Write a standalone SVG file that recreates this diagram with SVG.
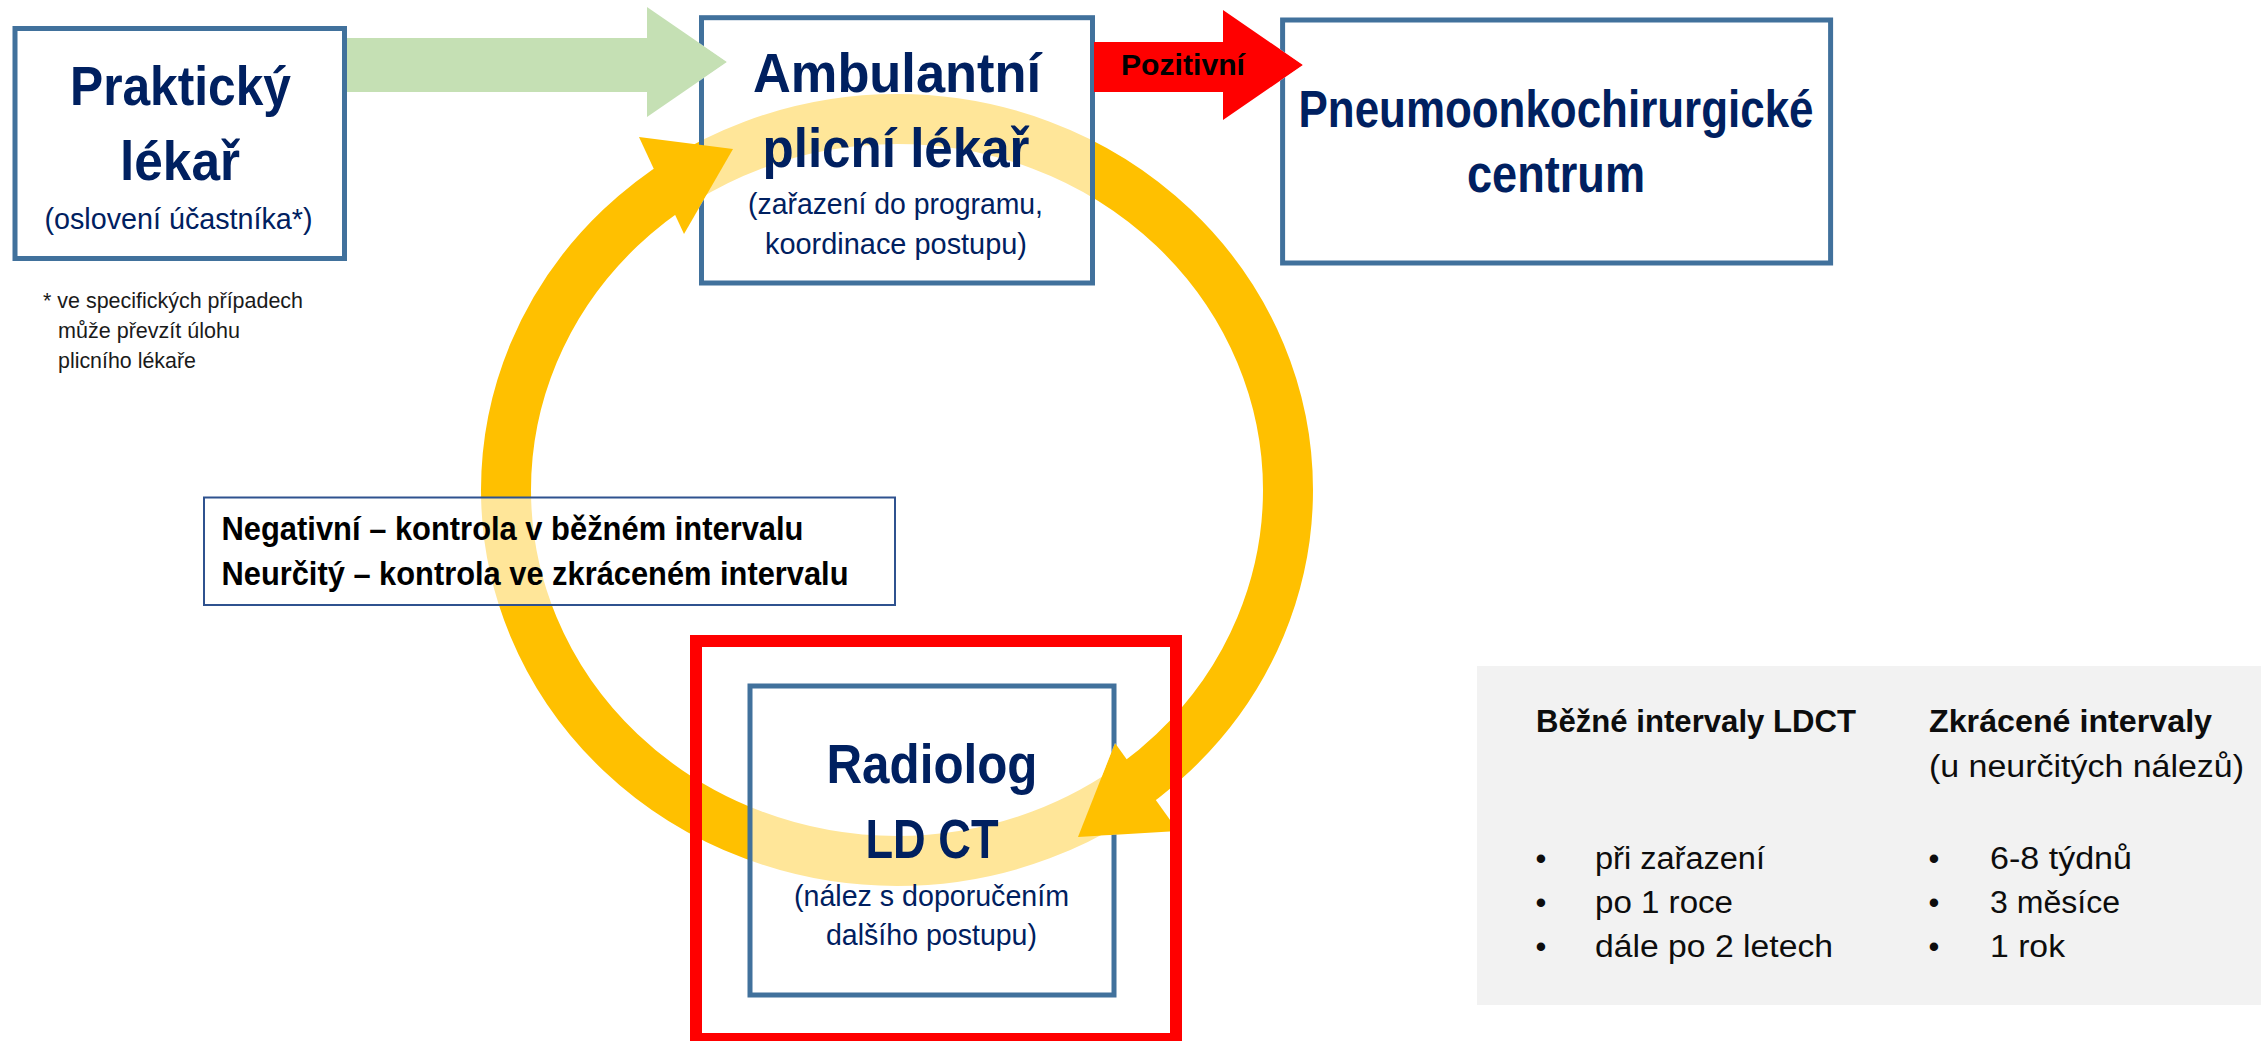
<svg xmlns="http://www.w3.org/2000/svg" xmlns:xlink="http://www.w3.org/1999/xlink" width="2261" height="1041" viewBox="0 0 2261 1041">
<style>
  text { font-family: 'Liberation Sans', Arial, sans-serif; }
  .bg { fill: #FFFFFF; }
  .box { fill: #FFFFFF; fill-opacity: 0.6; stroke: #41719C; stroke-width: 5; }
  .lblbox { fill: #FFFFFF; fill-opacity: 0.6; stroke: #2F528F; stroke-width: 2; }
  .hl { fill: none; stroke: #FF0000; stroke-width: 12; }
  .title { font-weight: bold; fill: #002060; font-size: 56px; text-anchor: middle; }
  .title2 { font-weight: bold; fill: #002060; font-size: 51px; text-anchor: middle; }
  .sub { fill: #002060; font-size: 30px; text-anchor: middle; }
  .ring { fill: none; stroke: #FFC000; stroke-width: 50; }
  .yel { fill: #FFC000; }
  .green { fill: #C5E0B4; }
  .red { fill: #FF0000; }
  .arrlbl { font-weight: bold; fill: #000000; font-size: 30px; text-anchor: middle; }
  .note { fill: #1A1A1A; font-size: 21.5px; }
  .lbl { font-weight: bold; fill: #000000; font-size: 34px; }
  .lgh { font-weight: bold; fill: #0D0D0D; font-size: 31px; }
  .lgt { fill: #0D0D0D; font-size: 31px; }
  .panel { fill: #F2F2F2; }
</style>
<defs>
  <polygon id="hL" points="639,137 733,149 684,234"/>
  <polygon id="hR" points="1115,743 1178,831 1078,837"/>
  <polygon id="aG" points="347,38 647,38 647,7 727,62 647,117 647,92 347,92"/>
  <polygon id="aR" points="1094,42 1223,42 1223,10 1303,65 1223,120 1223,92 1094,92"/>
  <mask id="mArr" maskUnits="userSpaceOnUse" x="0" y="0" width="2261" height="1041">
    <rect x="0" y="0" width="2261" height="1041" fill="#FFFFFF"/>
    <use xlink:href="#hL" href="#hL" fill="#000000"/>
    <use xlink:href="#hR" href="#hR" fill="#000000"/>
    <use xlink:href="#aG" href="#aG" fill="#000000"/>
    <use xlink:href="#aR" href="#aR" fill="#000000"/>
  </mask>
</defs>

<rect class="bg" x="0" y="0" width="2261" height="1041"/>

<g id="connectors">
  <ellipse class="ring" cx="897" cy="490" rx="391" ry="371"/>
  <use class="yel" xlink:href="#hL" href="#hL"/>
  <use class="yel" xlink:href="#hR" href="#hR"/>
  <use class="green" xlink:href="#aG" href="#aG"/>
  <use class="red" xlink:href="#aR" href="#aR"/>
  <text class="arrlbl" x="1183" y="75" textLength="124" lengthAdjust="spacingAndGlyphs">Pozitivní</text>
</g>

<g id="node-prakticky">
  <rect class="box" x="15" y="28.5" width="329.5" height="230"/>
  <text class="title" x="180.5" y="105" textLength="221" lengthAdjust="spacingAndGlyphs">Praktický</text>
  <text class="title" x="180" y="180" textLength="120" lengthAdjust="spacingAndGlyphs">lékař</text>
  <text class="sub" x="178.5" y="229" textLength="268" lengthAdjust="spacingAndGlyphs">(oslovení účastníka*)</text>
</g>

<g id="node-ambulantni">
  <rect class="box" x="701.5" y="17.7" width="391" height="265.3" mask="url(#mArr)"/>
  <text class="title" x="897" y="92" textLength="288" lengthAdjust="spacingAndGlyphs">Ambulantní</text>
  <text class="title" x="896" y="167" textLength="267" lengthAdjust="spacingAndGlyphs">plicní lékař</text>
  <text class="sub" x="895.5" y="214" textLength="295" lengthAdjust="spacingAndGlyphs">(zařazení do programu,</text>
  <text class="sub" x="896" y="254" textLength="262" lengthAdjust="spacingAndGlyphs">koordinace postupu)</text>
</g>

<g id="node-pneumo">
  <rect class="box" x="1282.6" y="20" width="548" height="243" mask="url(#mArr)"/>
  <text class="title2" x="1556" y="127" textLength="515" lengthAdjust="spacingAndGlyphs">Pneumoonkochirurgické</text>
  <text class="title2" x="1556" y="192" textLength="178" lengthAdjust="spacingAndGlyphs">centrum</text>
</g>

<g id="node-radiolog">
  <rect class="box" x="750" y="686" width="364" height="309" mask="url(#mArr)"/>
  <text class="title" x="932" y="783" textLength="211" lengthAdjust="spacingAndGlyphs">Radiolog</text>
  <text class="title" x="932" y="858" textLength="133" lengthAdjust="spacingAndGlyphs">LD CT</text>
  <text class="sub" x="931.5" y="906" textLength="275" lengthAdjust="spacingAndGlyphs">(nález s doporučením</text>
  <text class="sub" x="931.5" y="945" textLength="211" lengthAdjust="spacingAndGlyphs">dalšího postupu)</text>
</g>

<g id="highlight-radiolog">
  <rect class="hl" x="696" y="641" width="480" height="398"/>
</g>

<g id="label-intervals">
  <rect class="lblbox" x="204" y="497.5" width="691" height="107.5"/>
  <text class="lbl" x="221.5" y="540" textLength="582" lengthAdjust="spacingAndGlyphs">Negativní – kontrola v běžném intervalu</text>
  <text class="lbl" x="221.5" y="585" textLength="627" lengthAdjust="spacingAndGlyphs">Neurčitý – kontrola ve zkráceném intervalu</text>
</g>

<g id="footnote">
  <text class="note" x="43" y="308" textLength="260" lengthAdjust="spacingAndGlyphs">* ve specifických případech</text>
  <text class="note" x="58" y="338" textLength="182" lengthAdjust="spacingAndGlyphs">může převzít úlohu</text>
  <text class="note" x="58" y="368" textLength="138" lengthAdjust="spacingAndGlyphs">plicního lékaře</text>
</g>

<g id="legend">
  <rect class="panel" x="1477" y="666" width="784" height="339"/>
  <text class="lgh" x="1536" y="732" textLength="320" lengthAdjust="spacingAndGlyphs">Běžné intervaly LDCT</text>
  <text class="lgh" x="1929" y="732" textLength="283" lengthAdjust="spacingAndGlyphs">Zkrácené intervaly</text>
  <text class="lgt" x="1929" y="777" textLength="315" lengthAdjust="spacingAndGlyphs">(u neurčitých nálezů)</text>
  <text class="lgt" x="1541" y="869" text-anchor="middle">•</text>
  <text class="lgt" x="1541" y="913" text-anchor="middle">•</text>
  <text class="lgt" x="1541" y="957" text-anchor="middle">•</text>
  <text class="lgt" x="1595" y="869" textLength="170" lengthAdjust="spacingAndGlyphs">při zařazení</text>
  <text class="lgt" x="1595" y="913" textLength="138" lengthAdjust="spacingAndGlyphs">po 1 roce</text>
  <text class="lgt" x="1595" y="957" textLength="238" lengthAdjust="spacingAndGlyphs">dále po 2 letech</text>
  <text class="lgt" x="1934" y="869" text-anchor="middle">•</text>
  <text class="lgt" x="1934" y="913" text-anchor="middle">•</text>
  <text class="lgt" x="1934" y="957" text-anchor="middle">•</text>
  <text class="lgt" x="1990" y="869" textLength="142" lengthAdjust="spacingAndGlyphs">6-8 týdnů</text>
  <text class="lgt" x="1990" y="913" textLength="130" lengthAdjust="spacingAndGlyphs">3 měsíce</text>
  <text class="lgt" x="1990" y="957" textLength="75" lengthAdjust="spacingAndGlyphs">1 rok</text>
</g>
</svg>
